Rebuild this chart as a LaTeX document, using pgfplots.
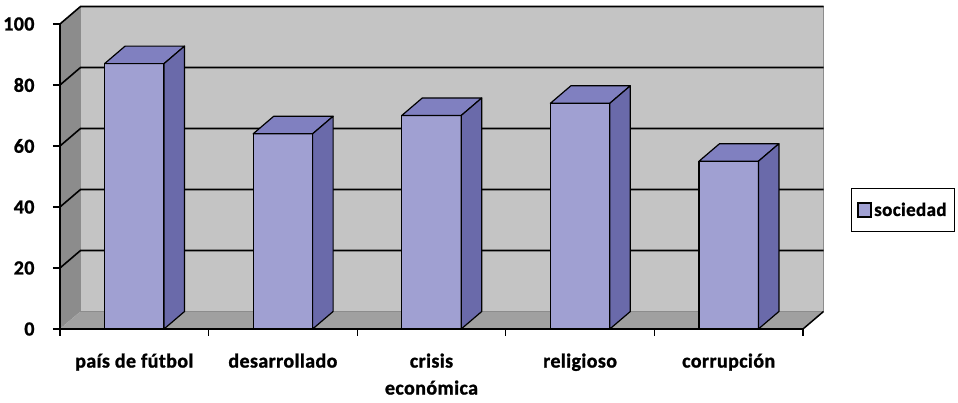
\documentclass[border=0pt]{standalone}
\usepackage{fontspec}
\setmainfont{Carlito}
\newfontfamily\lblfont{Carlito}[LetterSpace=2, FakeBold=1.2]
\usepackage{pgfplots}
\usepackage{pgfplotstable}
\pgfplotsset{compat=1.18}

\definecolor{barfront}{RGB}{160,160,210}
\definecolor{bartop}{RGB}{128,128,192}
\definecolor{barside}{RGB}{106,106,170}
\definecolor{wallback}{RGB}{196,196,196}
\definecolor{wallside}{RGB}{140,140,140}
\definecolor{wallfloor}{RGB}{160,160,160}

% one row per category: position on the x axis and value
\pgfplotstableread{
pos value
0.5 87
1.5 64
2.5 70
3.5 74
4.5 55
}\sociedad

% depth offset of the 3-D box, in axis units
\def\dx{0.138}
\def\dy{5.74}
\def\hb{0.2} % half of the bar width

\begin{document}
\begin{tikzpicture}
\useasboundingbox (-60pt,-74pt) rectangle (898pt,329pt);
\begin{axis}[
  at={(0,0)}, anchor=south west,
  scale only axis, width=743pt, height=305pt,
  xmin=0, xmax=5, ymin=0, ymax=100,
  clip=false, axis on top,
  separate axis lines, axis x line*=bottom, axis y line*=left,
  axis line style={black, line width=1.5pt},
  tick align=outside,
  major tick length=7pt,
  tick style={black, line width=1.2pt},
  xtick={0,1,...,5},
  xticklabels={},
  extra x ticks={0.5,1.5,2.5,3.5,4.5},
  extra x tick labels={pa\'{\i}s de fútbol, desarrollado, {crisis\\económica}, religioso, corrupción},
  extra x tick style={major tick length=0pt,
    xticklabel style={align=center, yshift=-21pt,
      font=\lblfont\bfseries\fontsize{20}{27}\selectfont}},
  ytick={0,20,...,100},
  yticklabel style={xshift=-15pt, font=\lblfont\bfseries\fontsize{20}{22}\selectfont},
  /pgf/number format/assume math mode=true,
  legend style={at={(1.1346,0.39)}, anchor=center, draw=black, line width=1pt,
    fill=white, inner xsep=6pt, inner ysep=12pt,
    font=\lblfont\bfseries\fontsize{19}{20}\selectfont},
]
% walls and floor of the box
\addplot[forget plot, fill=wallback, draw=none]
  coordinates {(0.138,5.74) (5.138,5.74) (5.138,105.74) (0.138,105.74)} -- cycle;
\addplot[forget plot, fill=wallside, draw=none]
  coordinates {(0,0) (0.138,5.74) (0.138,105.74) (0,100)} -- cycle;
\addplot[forget plot, fill=wallfloor, draw=none]
  coordinates {(0,0) (5,0) (5.138,5.74) (0.138,5.74)} -- cycle;
\addplot[forget plot, draw=black!45, line width=1pt]
  coordinates {(0.138,105.74) (0.138,5.74) (5.138,5.74) (5.138,105.74)};
\addplot[forget plot, draw=black!35, line width=0.8pt, dotted]
  coordinates {(0,0) (0.138,5.74)};
% grid lines running across the side wall and the back wall
\pgfplotsinvokeforeach{20,40,60,80,100}{
  \addplot[forget plot, draw=black, line width=1.6pt]
    coordinates {(0,#1) (0.138,#1+5.74) (5.138,#1+5.74)};
}
\addplot[forget plot, draw=black, line width=1.5pt]
  coordinates {(5,0) (5.138,5.74)};

% front faces of the columns
\addplot[ybar, bar width=0.4, fill=barfront, draw=black, line width=1.2pt,
  legend image code/.code={\draw[fill=barfront, draw=black, line width=1.8pt]
    (0pt,-7pt) rectangle (13pt,7pt);}]
  table[x=pos, y=value] {\sociedad};
\addlegendentry{sociedad}

% top and side faces of each column
\pgfplotsinvokeforeach{0,...,4}{
  \pgfplotstablegetelem{#1}{pos}\of\sociedad \let\px\pgfplotsretval
  \pgfplotstablegetelem{#1}{value}\of\sociedad \let\pv\pgfplotsretval
  \pgfmathsetmacro\xa{\px-\hb}
  \pgfmathsetmacro\xb{\px+\hb}
  \pgfmathsetmacro\xc{\px-\hb+\dx}
  \pgfmathsetmacro\xd{\px+\hb+\dx}
  \pgfmathsetmacro\vt{\pv+\dy}
  \edef\topface{\noexpand\addplot[forget plot, fill=bartop, draw=black,
    line width=1.2pt, line join=round]
    coordinates {(\xa,\pv) (\xb,\pv) (\xd,\vt) (\xc,\vt)} -- cycle;}
  \topface
  \edef\sideface{\noexpand\addplot[forget plot, fill=barside, draw=black,
    line width=1.2pt, line join=round]
    coordinates {(\xb,0) (\xd,\dy) (\xd,\vt) (\xb,\pv)} -- cycle;}
  \sideface
}
\end{axis}
\end{tikzpicture}
\end{document}
